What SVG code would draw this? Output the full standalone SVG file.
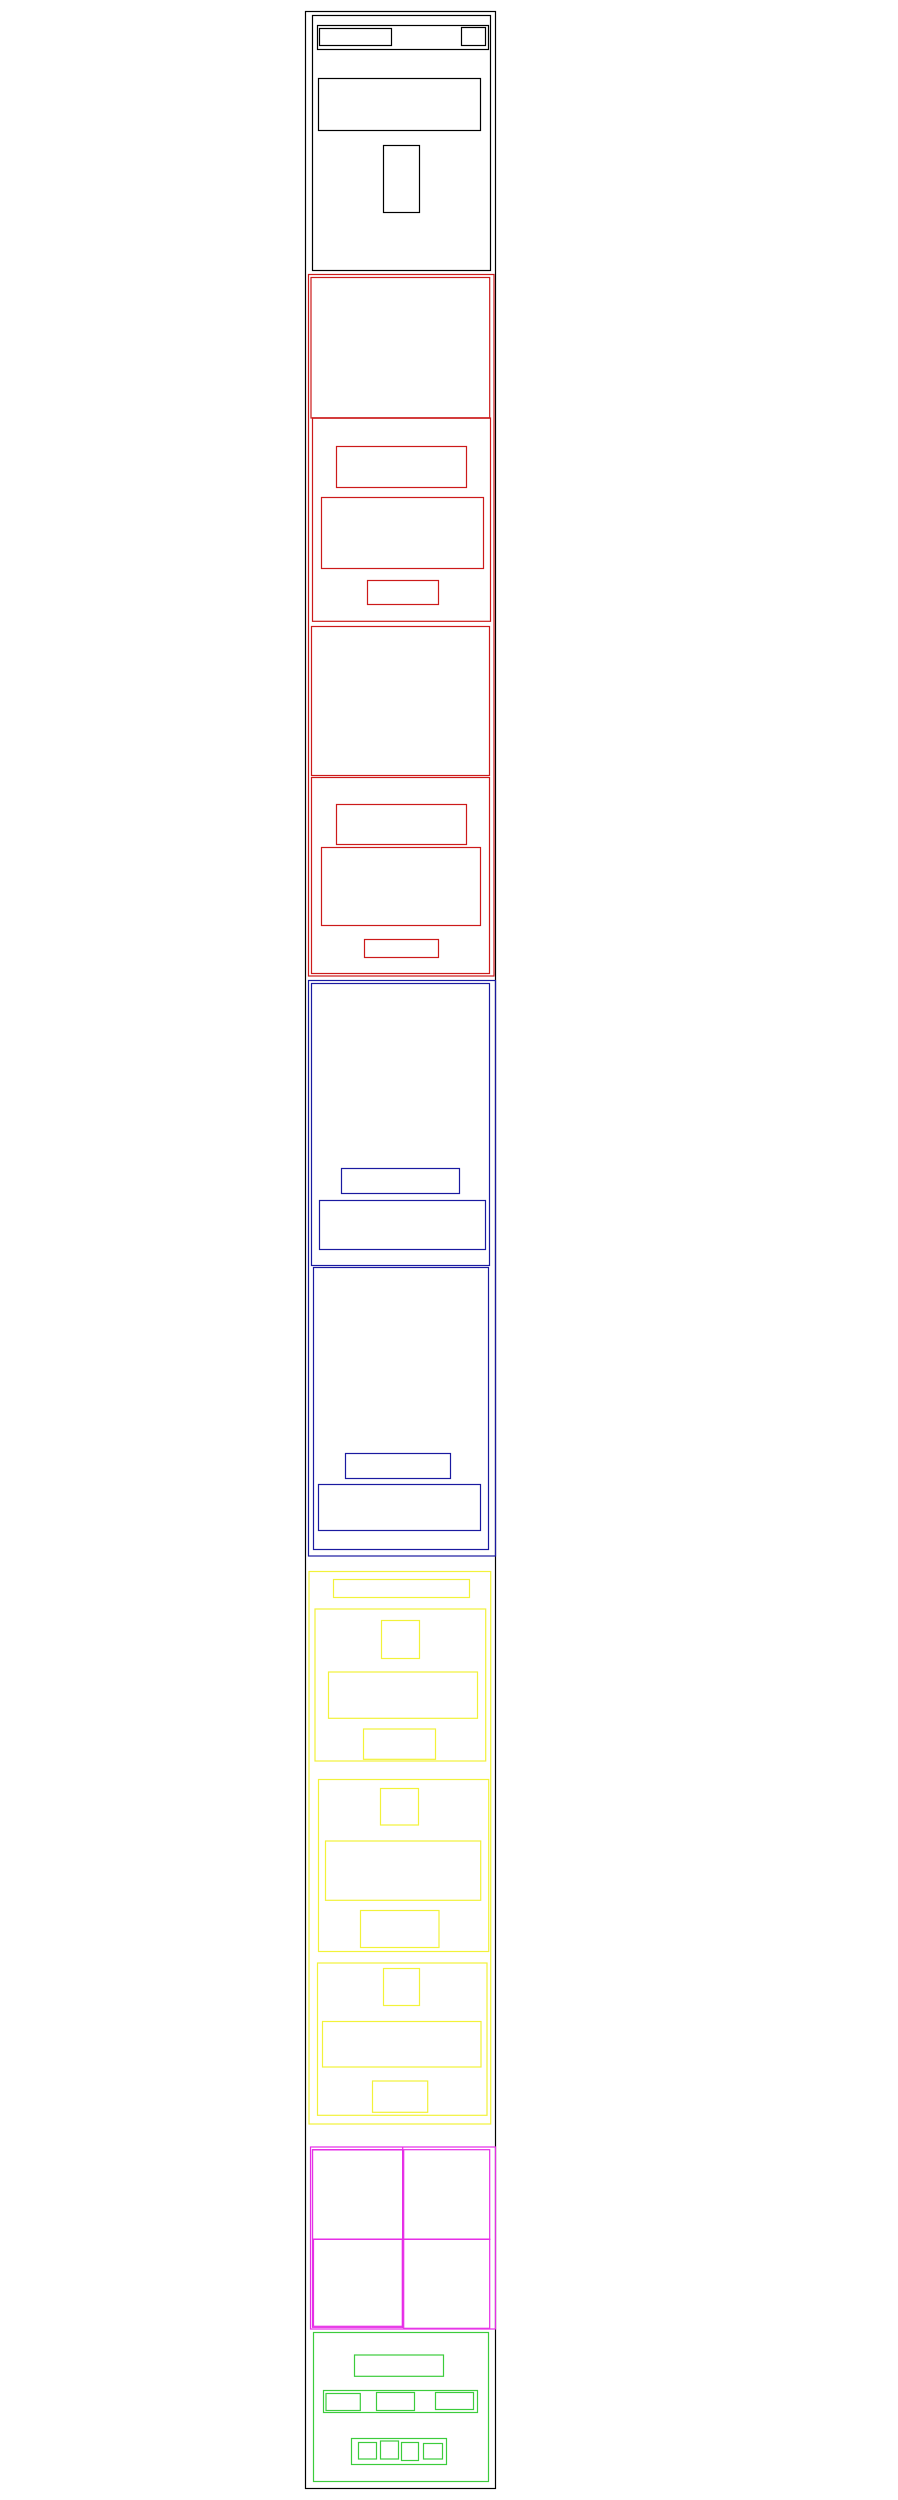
<svg xmlns="http://www.w3.org/2000/svg" width="898" height="2500" viewBox="0 0 898 2500">
<style>
rect,line{fill:none;stroke-width:1.2}
.k{stroke:#000}
.r{stroke:#cc1a1a}
.b{stroke:#1a1aa0}
.y{stroke:#f2f23a}
.m{stroke:#e62ee6}
.g{stroke:#3ccc3c}
</style>
<rect width="898" height="2500" fill="#fff" style="stroke:none"/>
<g id="frame"><rect class="k" x="305.5" y="11.5" width="190" height="2477" stroke-width="1.5"/></g>
<g id="header-section">
<rect class="k" x="312.5" y="15.5" width="178" height="255"/>
<rect class="k" x="317.5" y="25.5" width="171" height="24"/>
<rect class="k" x="319.5" y="28.5" width="72" height="17"/>
<rect class="k" x="461.5" y="27.5" width="24" height="18"/>
<rect class="k" x="318.5" y="78.5" width="162" height="52"/>
<rect class="k" x="383.5" y="145.5" width="36" height="67"/>
</g>
<g id="red-section">
<rect class="r" x="308.5" y="274.5" width="185.5" height="701.5"/>
<rect class="r" x="311" y="277.5" width="178.7" height="140.5"/>
<rect class="r" x="312.5" y="418" width="178" height="203.3"/>
<rect class="r" x="336.5" y="446.5" width="130" height="41"/>
<rect class="r" x="321.5" y="497.5" width="162" height="71"/>
<rect class="r" x="367.5" y="580.5" width="71" height="24"/>
<rect class="r" x="311.5" y="626.5" width="178" height="149"/>
<rect class="r" x="311.5" y="777.5" width="178" height="196"/>
<rect class="r" x="336.5" y="804.5" width="130" height="40"/>
<rect class="r" x="321.5" y="847.5" width="159" height="78"/>
<rect class="r" x="364.5" y="939.5" width="74" height="18"/>
</g>
<g id="blue-section">
<rect class="b" x="308.5" y="980.5" width="187" height="575.5"/>
<rect class="b" x="311.5" y="983.5" width="178" height="282"/>
<rect class="b" x="341.5" y="1168.5" width="118" height="25"/>
<rect class="b" x="319.5" y="1200.5" width="166" height="49"/>
<rect class="b" x="313.5" y="1267.5" width="175" height="282"/>
<rect class="b" x="345.5" y="1453.5" width="105" height="25"/>
<rect class="b" x="318.5" y="1484.5" width="162" height="46"/>
</g>
<g id="yellow-section">
<rect class="y" x="309" y="1571.5" width="181.7" height="552.5"/>
<rect class="y" x="333.5" y="1579.5" width="136" height="18"/>
<rect class="y" x="315" y="1609" width="170.7" height="152"/>
<rect class="y" x="381.5" y="1620.5" width="38" height="38"/>
<rect class="y" x="328.5" y="1672" width="149" height="46.3"/>
<rect class="y" x="363.5" y="1729" width="72" height="30.3"/>
<rect class="y" x="318.5" y="1779.5" width="170.2" height="172"/>
<rect class="y" x="380.5" y="1788.5" width="38" height="36.5"/>
<rect class="y" x="325.5" y="1841" width="155.2" height="59.3"/>
<rect class="y" x="360.5" y="1910.5" width="78.5" height="37"/>
<rect class="y" x="317.5" y="1963" width="169.5" height="152.3"/>
<rect class="y" x="383.5" y="1968.5" width="36" height="37"/>
<rect class="y" x="322.5" y="2021.5" width="158.5" height="45.5"/>
<rect class="y" x="372.5" y="2081" width="55.2" height="31.3"/>
</g>
<g id="magenta-section">
<rect class="m" x="310.5" y="2147" width="185" height="182"/>
<rect class="m" x="312.5" y="2149.7" width="90.2" height="177.6"/>
<rect class="m" x="312.5" y="2149.7" width="90.2" height="89.6"/>
<rect class="m" x="403.7" y="2149.7" width="86" height="89.6"/>
<rect class="m" x="313.5" y="2239.3" width="88.8" height="87"/>
<rect class="m" x="403.7" y="2239.3" width="86" height="89"/>
<line class="m" x1="402.7" y1="2147" x2="402.7" y2="2328" stroke-width="2"/>
</g>
<g id="green-section">
<rect class="g" x="313.5" y="2332.5" width="175" height="149"/>
<rect class="g" x="354.5" y="2355" width="89" height="21.3"/>
<rect class="g" x="323.5" y="2390.5" width="154" height="22"/>
<rect class="g" x="326" y="2393.5" width="34.3" height="17"/>
<rect class="g" x="376.5" y="2392.5" width="38" height="18"/>
<rect class="g" x="435.5" y="2392.5" width="38" height="17"/>
<rect class="g" x="351.5" y="2438.5" width="95" height="26"/>
<rect class="g" x="358.5" y="2442.5" width="18" height="16.5"/>
<rect class="g" x="380.5" y="2441" width="18" height="18"/>
<rect class="g" x="401.5" y="2442.5" width="17" height="18"/>
<rect class="g" x="423.5" y="2443.5" width="19" height="15.5"/>
</g>
<g id="connectors"></g>
</svg>
